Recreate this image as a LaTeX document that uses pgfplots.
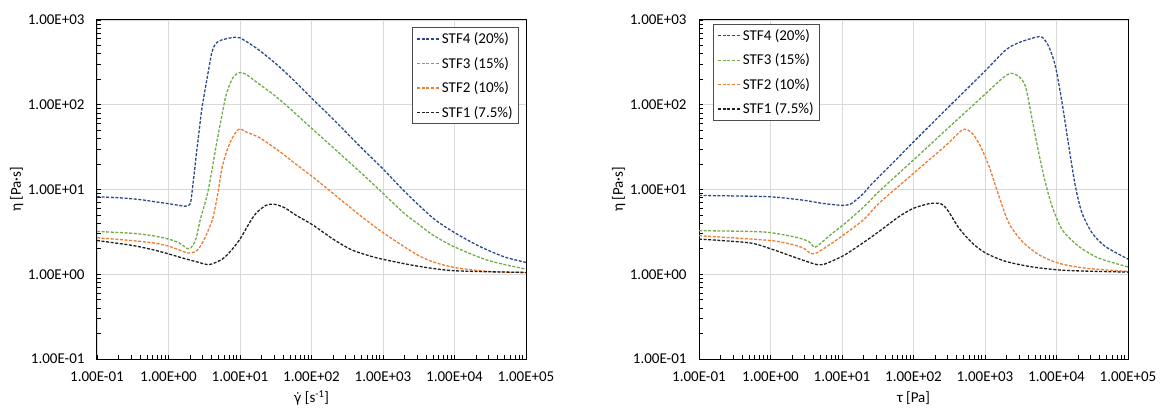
\documentclass[border=0pt]{standalone}
\usepackage{fontspec}
\setmainfont{Carlito}
\newfontfamily\dejavu{DejaVu Sans}
\usepackage{pgfplots}
\pgfplotsset{compat=1.18}

\definecolor{cBlue}{HTML}{2B4A8C}
\definecolor{cGreen}{HTML}{70AD47}
\definecolor{cOrange}{HTML}{ED7D31}
\definecolor{cBlack}{HTML}{1F1F1F}
\definecolor{cGrid}{HTML}{D9D9D9}

\newcommand{\lblfont}{\fontsize{15}{18}\selectfont}

\pgfplotsset{
  curve/.style={line width=1.3pt, dash pattern=on 3pt off 1.6pt, smooth, tension=0.45},
  s4/.style={curve, color=cBlue},
  s3/.style={curve, color=cGreen},
  s2/.style={curve, color=cOrange},
  s1/.style={curve, color=cBlack},
  legend image code/.code={\draw[#1, sharp plot] (0pt,0pt) -- (22pt,0pt);},
  every axis/.append style={
    scale only axis, width=429pt, height=339pt, anchor=south west,
    xmin=0.1, xmax=1e5, ymin=0.1, ymax=1000,
    xtick={0.1,1,10,100,1000,10000,100000},
    xticklabels={1.00E-01,1.00E+00,1.00E+01,1.00E+02,1.00E+03,1.00E+04,1.00E+05},
    ytick={0.1,1,10,100,1000},
    yticklabels={1.00E-01,1.00E+00,1.00E+01,1.00E+02,1.00E+03},
    minor xtick={0.2,0.3,0.4,0.5,0.6,0.7,0.8,0.9,2,3,4,5,6,7,8,9,20,30,40,50,60,70,80,90,200,300,400,500,600,700,800,900,2000,3000,4000,5000,6000,7000,8000,9000,20000,30000,40000,50000,60000,70000,80000,90000},
    minor ytick={0.2,0.3,0.4,0.5,0.6,0.7,0.8,0.9,2,3,4,5,6,7,8,9,20,30,40,50,60,70,80,90,200,300,400,500,600,700,800,900},
    xtick pos=left, ytick pos=left,
    tick align=inside,
    major tick length=4pt, minor tick length=4pt,
    tick style={black, line width=0.7pt},
    xmajorgrids=true, ymajorgrids=true,
    major grid style={cGrid, line width=0.8pt},
    axis line style={black, line width=1pt},
    tick label style={font=\lblfont},
    xticklabel style={yshift=-9pt},
    yticklabel style={xshift=-9pt},
    every axis label/.append style={font=\lblfont},
    xlabel style={at={(axis description cs:0.5,-0.115)}, anchor=center},
    ylabel style={at={(axis description cs:-0.187,0.5)}, anchor=center},
    legend cell align=left,
    legend style={font=\lblfont, draw=black!70, line width=0.8pt, fill=white,
      inner xsep=4pt, inner ysep=3pt, row sep=8pt},
  },
}

\begin{document}
\begin{tikzpicture}
\path[use as bounding box] (0pt,0pt) rectangle (1163pt,-409pt);

% viscosity against shear rate
\begin{loglogaxis}[at={(97pt,-359pt)},
  xlabel={{\dejavu\fontsize{13}{16}\selectfont γ̇} [s\textsuperscript{-1}]}, ylabel={η [Pa·s]},
  legend style={at={(axis description cs:0.984,0.978)}, anchor=north east}]
\addplot[s4] coordinates {
 (0.1,8.2) (0.2,8.0) (0.4,7.6) (0.7,7.1) (1.0,6.8) (1.4,6.5) (1.7,6.35)
 (1.9,6.5) (2.04,7.0) (2.17,10.5) (2.3,16) (2.45,26) (2.65,45) (2.9,85)
 (3.2,140) (3.5,215) (4.0,400) (4.4,500) (4.7,540) (5.5,580) (7.0,610)
 (8.5,625) (10,615) (13,540) (18.6,440) (34,290) (60,185) (100,120)
 (200,68) (500,31) (1000,17.5) (2000,9.5) (5000,4.6) (10000,3.1)
 (22500,2.13) (50000,1.6) (100000,1.38)};
\addlegendentry{STF4 (20\%)}
\addplot[s3] coordinates {
 (0.1,3.2) (0.3,3.05) (0.6,2.85) (1.0,2.6) (1.4,2.35) (1.7,2.1) (1.87,2.0)
 (2.05,2.05) (2.2,2.2) (2.45,2.7) (2.8,4.5) (3.5,8.8) (4.1,18) (4.7,35)
 (5.5,70) (6.3,124) (7.2,175) (8.0,210) (9.0,232) (10,240) (12,230)
 (18.6,175) (30,130) (50,90) (105,51) (300,23) (600,13.5) (1000,9.0)
 (2000,5.2) (3000,4.0) (5000,2.9) (10000,2.1) (30000,1.45) (100000,1.15)};
\addlegendentry{STF3 (15\%)}
\addplot[s2] coordinates {
 (0.1,2.7) (0.3,2.5) (0.6,2.35) (1.0,2.15) (1.5,1.9) (1.9,1.78) (2.5,1.9)
 (3.1,2.5) (3.7,3.5) (4.2,4.7) (4.9,9) (5.6,18) (6.5,28) (7.5,38) (8.7,47)
 (10,52) (12,48) (18.6,41) (34,29) (60,20) (105,14) (200,9.0) (300,6.8)
 (500,4.8) (1000,3.1) (2000,2.1) (3160,1.66) (5000,1.4) (10000,1.2)
 (30000,1.08) (100000,1.05)};
\addlegendentry{STF2 (10\%)}
\addplot[s1] coordinates {
 (0.1,2.5) (0.3,2.2) (0.6,1.95) (1.0,1.74) (1.6,1.55) (2.5,1.4) (3.7,1.3)
 (5.6,1.5) (7.5,1.9) (10,2.6) (13,3.8) (16.6,5.2) (23,6.5) (30,6.7)
 (42,6.1) (60,5.0) (105,3.8) (200,2.6) (360,1.95) (600,1.68) (1000,1.5)
 (3000,1.25) (10000,1.1) (100000,1.05)};
\addlegendentry{STF1 (7.5\%)}
\end{loglogaxis}

% viscosity against shear stress
\begin{loglogaxis}[at={(699pt,-359pt)},
  xlabel={τ [Pa]}, ylabel={η [Pa·s]},
  legend style={at={(axis description cs:0.033,0.988)}, anchor=north west}]
\addplot[s4] coordinates {
 (0.1,8.5) (0.3,8.4) (1.0,8.2) (2.8,7.5) (5.1,6.9) (8,6.6) (10.5,6.5)
 (13,6.7) (16,7.6) (20,9.0) (25,11.2) (33,14.2) (60,23.5) (100,36.5)
 (282,87) (1000,250) (1950,443) (2980,541) (5090,625) (6310,625)
 (7820,485) (9680,282) (12000,104) (14900,32) (18400,10.8) (22800,5.25)
 (31600,3.06) (48000,2.13) (100000,1.51)};
\addlegendentry{STF4 (20\%)}
\addplot[s3] coordinates {
 (0.1,3.27) (0.5,3.2) (1.0,3.1) (2.2,2.75) (3.2,2.5) (3.7,2.3) (4.0,2.1)
 (4.5,2.15) (7.2,3.0) (10.5,3.85) (20,6.2) (33,9.5) (100,22.3) (282,50)
 (1000,133) (1750,205) (2280,235) (2980,215) (3690,164) (4580,66)
 (5660,26.8) (7020,11.9) (8700,6.3) (12000,3.35) (20500,2.13)
 (39000,1.55) (100000,1.22)};
\addlegendentry{STF3 (15\%)}
\addplot[s2] coordinates {
 (0.1,2.85) (1.0,2.5) (2.2,2.2) (3.0,2.0) (3.55,1.78) (4.5,1.8) (9.3,2.7)
 (20,4.4) (33,6.9) (100,15.5) (282,33) (483,50.5) (631,48) (824,35)
 (1140,18.7) (1570,8.3) (2160,4.0) (3320,2.44) (5660,1.70) (10700,1.35)
 (25300,1.18) (100000,1.08)};
\addlegendentry{STF2 (10\%)}
\addplot[s1] coordinates {
 (0.1,2.6) (0.5,2.35) (1.0,2.0) (2.2,1.58) (3.5,1.38) (4.5,1.3) (5.75,1.32)
 (10.5,1.66) (19,2.3) (33,3.2) (63,4.8) (100,6.0) (165,6.8) (241,6.8)
 (298,5.75) (433,3.5) (665,2.33) (1020,1.78) (1940,1.42) (4580,1.22)
 (13400,1.11) (100000,1.06)};
\addlegendentry{STF1 (7.5\%)}
\end{loglogaxis}
\end{tikzpicture}
\end{document}
